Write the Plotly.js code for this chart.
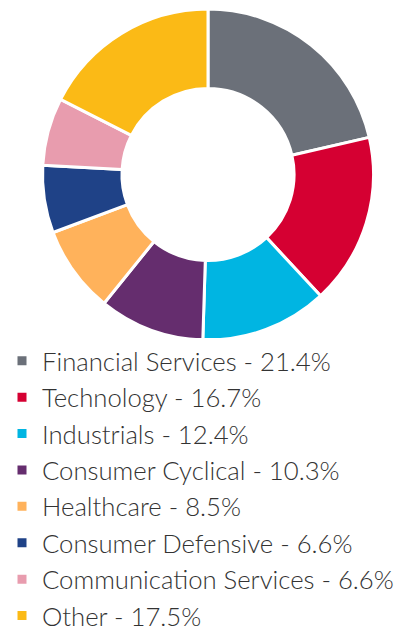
<!DOCTYPE html>
<html>
<head>
<meta charset="utf-8">
<script src="https://cdn.plot.ly/plotly-3.0.1.min.js"></script>
<style>
  html, body { margin: 0; padding: 0; background: #fff; }
  #chart { width: 400px; height: 629px; }
</style>
</head>
<body>
<div id="chart"></div>
<script>
// sector weights, clockwise from 12 o'clock
var sectors = ['Financial Services', 'Technology', 'Industrials', 'Consumer Cyclical',
               'Healthcare', 'Consumer Defensive', 'Communication Services', 'Other'];
var weights = [21.4, 16.7, 12.4, 10.3, 8.5, 6.6, 6.6, 17.5];
var colors = ['#6b7079', '#d50032', '#00b5e2', '#652d6e',
              '#ffb25b', '#1f4287', '#e89cae', '#fbba16'];

var legendLabels = sectors.map(function (s, i) {
  return s + ' - ' + weights[i].toFixed(1) + '%';
});

var trace = {
  type: 'pie',
  labels: legendLabels,
  values: weights,
  hole: 0.52,
  sort: false,
  direction: 'clockwise',
  rotation: 0,
  textinfo: 'none',
  hoverinfo: 'label',
  marker: {
    colors: colors,
    line: { color: '#ffffff', width: 3 }
  },
  domain: { x: [0.105, 0.935], y: [0.4595, 0.9857] }
};

var layout = {
  width: 400,
  height: 629,
  margin: { l: 0, r: 0, t: 0, b: 0, autoexpand: false },
  paper_bgcolor: '#ffffff',
  showlegend: true,
  legend: {
    orientation: 'v',
    x: 0.005,
    xanchor: 'left',
    y: 0.4634,
    yanchor: 'top',
    font: { family: 'Lato, sans-serif', size: 25.7, color: '#333333', weight: 300 },
    traceorder: 'normal'
  }
};

Plotly.newPlot('chart', [trace], layout, { displayModeBar: false, staticPlot: true });
</script>
</body>
</html>
